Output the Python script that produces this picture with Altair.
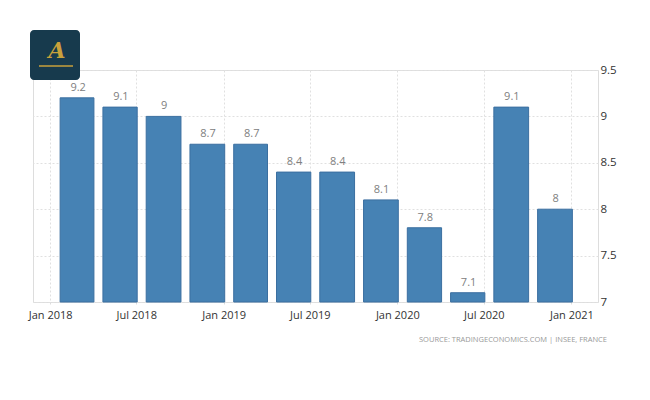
import altair as alt
import pandas as pd

# quarterly rate, France (Q1 2018 .. Q4 2020)
quarter_start = ["2018-01-01", "2018-04-01", "2018-07-01", "2018-10-01",
                 "2019-01-01", "2019-04-01", "2019-07-01", "2019-10-01",
                 "2020-01-01", "2020-04-01", "2020-07-01", "2020-10-01"]
quarter_end = ["2018-04-01", "2018-07-01", "2018-10-01", "2019-01-01",
               "2019-04-01", "2019-07-01", "2019-10-01", "2020-01-01",
               "2020-04-01", "2020-07-01", "2020-10-01", "2021-01-01"]
rate = [9.2, 9.1, 9.0, 8.7, 8.7, 8.4, 8.4, 8.1, 7.8, 7.1, 9.1, 8.0]

tick_dates = [(2018, 1), (2018, 7), (2019, 1), (2019, 7), (2020, 1), (2020, 7), (2021, 1)]
y_ticks = [7, 7.5, 8, 8.5, 9, 9.5]
source = "SOURCE: TRADINGECONOMICS.COM | INSEE, FRANCE"

df = pd.DataFrame({"start": quarter_start, "end": quarter_end, "rate": rate})

x_scale = alt.Scale(
    type="utc",
    domain=[alt.DateTime(year=2017, month=11, date=26, utc=True),
            alt.DateTime(year=2021, month=2, date=26, utc=True)],
)
y_scale = alt.Scale(domain=[7, 9.5], nice=False, zero=False)

x_axis = alt.Axis(
    title=None,
    values=[alt.DateTime(year=y, month=m, date=1, utc=True) for y, m in tick_dates],
    format="%b %Y",
    labelFont="Open Sans",
    labelFontSize=11,
    labelColor="#333333",
    labelPadding=3,
    domain=False,
    tickColor="#dddddd",
    tickDash=[2, 2],
    tickSize=4,
    grid=True,
    gridColor="#e0e0e0",
    gridDash=[2, 2],
)
y_axis = alt.Axis(
    title=None,
    orient="right",
    values=y_ticks,
    format="~g",
    labelFont="Open Sans",
    labelFontSize=11.5,
    labelColor="#333333",
    labelPadding=2,
    ticks=False,
    domain=False,
    grid=True,
    gridColor="#e0e0e0",
    gridDash=[2, 2],
)

base = alt.Chart(df)

bars = base.mark_bar(
    color="#4682b4", stroke="#3b6fa0", strokeWidth=1, xOffset=10, x2Offset=1
).encode(
    x=alt.X("start:T", scale=x_scale, axis=x_axis),
    x2="end:T",
    y=alt.Y("rate:Q", scale=y_scale, axis=y_axis),
    y2=alt.datum(7),
)

labels = base.mark_text(
    font="Open Sans", fontSize=11, color="#808080", baseline="bottom", dx=28, dy=-5
).encode(
    x=alt.X("start:T", scale=x_scale),
    y=alt.Y("rate:Q", scale=y_scale),
    text=alt.Text("rate:Q", format=".1~f"),
)

one = pd.DataFrame({"a": [0]})
logo = alt.Chart(one).mark_rect(color="#173a4d", cornerRadius=4).encode(
    x=alt.value(-3), x2=alt.value(47), y=alt.value(-40), y2=alt.value(10)
)
logo_a = alt.Chart(one).mark_text(
    text="A", font="DejaVu Serif", fontSize=22, fontStyle="italic", fontWeight="bold",
    color="#c9a13b",
).encode(x=alt.value(24), y=alt.value(-19))
logo_line = alt.Chart(one).mark_rule(color="#c9a13b", strokeWidth=1.5).encode(
    x=alt.value(6), x2=alt.value(40), y=alt.value(-4)
)

note = alt.Chart(one).mark_text(
    text=source, font="Open Sans", fontSize=7.5, color="#999999", align="right", baseline="middle"
).encode(x=alt.value(574), y=alt.value(270))

chart = (
    alt.layer(bars, labels, logo, logo_a, logo_line, note)
    .properties(
        width=565,
        height=232,
        padding={"left": 25, "top": 62, "right": 44, "bottom": 90},
        autosize=alt.AutoSizeParams(type="none"),
    )
    .configure_view(stroke=None)
    .configure(background="white")
)

chart.save("out.html", embed_options={"renderer": "svg", "actions": False})
